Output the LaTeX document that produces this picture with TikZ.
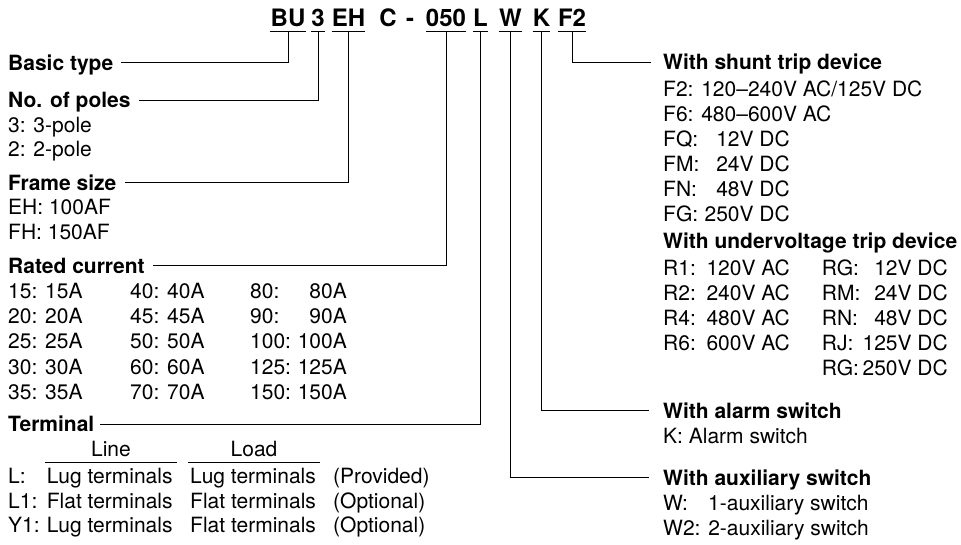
\documentclass[tikz,border=0pt]{standalone}
\usepackage{fontspec}
\setmainfont{TeX Gyre Heros}
\usetikzlibrary{positioning}

\begin{document}
\begin{tikzpicture}[x=1pt, y=-1pt,
  code/.style={font=\fontsize{24}{28}\selectfont\bfseries, inner sep=0pt, anchor=base},
  seg/.style={code, text depth=5pt},
  head/.style={font=\fontsize{21}{25}\selectfont\bfseries, inner sep=0pt, text height=15pt, text depth=0pt, anchor=base west},
  txt/.style={font=\fontsize{21}{25}\selectfont, inner sep=0pt, anchor=base west},
  val/.style={txt, anchor=base east},
  lead/.style={line width=0.9pt},
  rule/.style={line width=1pt}]

% === Drawing region ===
\useasboundingbox (0,0) rectangle (961,545);

% === Type code ===
\pgfmathsetmacro{\codey}{26.7}
\node[seg] (bu) at (288,\codey) {BU};
\node[seg] (poles) at (318,\codey) {3};
\node[seg] (frame) at (348.5,\codey) {EH};
\node[code] (cc) at (388,\codey) {C};
\node[code] (dash) at (410,\codey) {-};
\node[seg] (amp) at (446,\codey) {050};
\node[seg] (term) at (480.5,\codey) {L};
\node[seg] (aux) at (510.5,\codey) {W};
\node[seg] (alarm) at (541.5,\codey) {K};
\node[seg] (trip) at (572,\codey) {F2};
\foreach \s in {bu,poles,frame,amp,term,aux,alarm,trip}
  \draw[rule] (\s.south west) -- (\s.south east);

% === Left column ===
\node[head] (basic) at (8,70.2) {Basic type};

\node[head] (npoles) at (8,107.5) {No. of poles};
\node[txt] (p3) at (8,132.5) {3: 3-pole};
\node[txt] (p2) at (8,157) {2: 2-pole};

\node[head] (fsize) at (8,190.2) {Frame size};
\node[txt] (eh) at (8,215) {EH: 100AF};
\node[txt] (fh) at (8,240) {FH: 150AF};

\node[head] (rated) at (8,273.3) {Rated current};
\foreach \ca/\cb/\cc [count=\i from 0] in {15/40/80, 20/45/90, 25/50/100, 30/60/125, 35/70/150} {
  \pgfmathsetmacro{\yy}{298.4+25.25*\i}
  \node[txt] (cur-\i-a) at (8,\yy) {\ca: \ca A};
  \node[txt] (cur-\i-b) at (130,\yy) {\cb: \cb A};
  \node[txt] (cur-\i-c) at (250,\yy) {\cc:};
  \node[val] (cur-\i-d) at (347,\yy) {\cc A};
}

\node[head] (terminal) at (8,431.7) {Terminal};
\node[txt, anchor=base, minimum width=132pt, text depth=5.3pt] (line) at (111,456.7) {Line};
\node[txt, anchor=base, minimum width=132pt, text depth=5.3pt] (load) at (254,456.7) {Load};
\draw[lead] (line.south west) -- (line.south east);
\draw[lead] (load.south west) -- (load.south east);
\foreach \k/\ln/\ld/\st [count=\i from 0] in {L:/Lug/Lug/Provided, L1:/Flat/Flat/Optional, Y1:/Lug/Flat/Optional} {
  \pgfmathsetmacro{\yy}{483.3+24.7*\i}
  \node[txt] (tk-\i) at (8,\yy) {\k};
  \node[txt] (tl-\i) at (46.7,\yy) {\ln\ terminals};
  \node[txt] (td-\i) at (190,\yy) {\ld\ terminals};
  \node[txt] (ts-\i) at (333,\yy) {(\st)};
}

% === Right column ===
\node[head] (shunt) at (663,70) {With shunt trip device};
\node[txt] (f2) at (663,96.5) {F2: 120–240V AC/125V DC};
\node[txt] (f6) at (663,121.5) {F6: 480–600V AC};
\foreach \k/\v [count=\i from 0] in {FQ:/12V DC, FM:/24V DC, FN:/48V DC, FG:/250V DC} {
  \pgfmathsetmacro{\yy}{146.5+25*\i}
  \node[txt] (fk-\i) at (663,\yy) {\k};
  \node[val] (fv-\i) at (790,\yy) {\v};
}

\node[head] (under) at (663,248.3) {With undervoltage trip device};
\foreach \k/\v/\kk/\vv [count=\i from 0] in {R1:/120V AC/RG:/12V DC, R2:/240V AC/RM:/24V DC, R4:/480V AC/RN:/48V DC, R6:/600V AC/RJ:/125V DC} {
  \pgfmathsetmacro{\yy}{275.5+25.1*\i}
  \node[txt] (rk-\i) at (663,\yy) {\k};
  \node[val] (rv-\i) at (790,\yy) {\v};
  \node[txt] (rkk-\i) at (821.7,\yy) {\kk};
  \node[val] (rvv-\i) at (948,\yy) {\vv};
}
\node[txt] (rgk) at (821.7,375.9) {RG:};
\node[val] (rgv) at (948,375.9) {250V DC};

\node[head] (alarmsw) at (663,418.3) {With alarm switch};
\node[txt] (kk) at (663,443.3) {K: Alarm switch};

\node[head] (auxsw) at (663,485) {With auxiliary switch};
\node[txt] (w1k) at (663,510.5) {W:};
\node[txt] (w1v) at (708,510.5) {1-auxiliary switch};
\node[txt] (w2) at (663,535) {W2: 2-auxiliary switch};

% === Leaders ===
\draw[lead] (bu.south) |- ([xshift=8pt]basic.east);
\draw[lead] (poles.south) |- ([xshift=8pt]npoles.east);
\draw[lead] (frame.south) |- ([xshift=8pt]fsize.east);
\draw[lead] (amp.south) |- ([xshift=8pt]rated.east);
\draw[lead] (term.south) |- ([xshift=6pt]terminal.east);
\draw[lead] (aux.south) |- ([xshift=-14pt]auxsw.west);
\draw[lead] (alarm.south) |- ([xshift=-14pt]alarmsw.west);
\draw[lead] (trip.south) |- ([xshift=-12pt]shunt.west);

\end{tikzpicture}
\end{document}
